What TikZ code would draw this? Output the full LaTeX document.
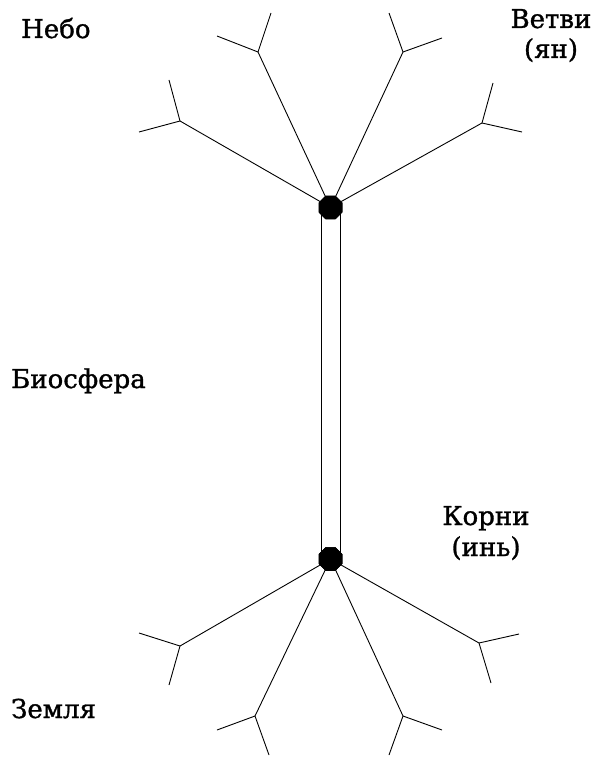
\documentclass[tikz,border=0pt]{standalone}
\usepackage{fontspec}
\setmainfont{DejaVu Serif}
\newfontfamily\labfont{DejaVu Serif}[FakeBold=1.2]
\usetikzlibrary{shapes.geometric}
\tikzset{
  hub/.style={regular polygon, regular polygon sides=8, fill=black, draw=black, minimum size=25pt, inner sep=0pt},
  lab/.style={font=\labfont\fontsize{26}{30}\selectfont, inner sep=0pt},
  ln/.style={line width=0.9pt}
}
\begin{document}
\begin{tikzpicture}[x=1pt,y=-1pt]
\useasboundingbox (0,0) rectangle (595,757);
% hubs
\node[hub] (top) at (330.5,207.5) {};
\node[hub] (bot) at (330.5,559) {};
% trunk
\coordinate (tA) at (321,207.5); \coordinate (bA) at (321,559);
\coordinate (tB) at (340,207.5); \coordinate (bB) at (340,559);
\draw[ln] (tA) -- (bA);
\draw[ln] (tB) -- (bB);
% top branches
\coordinate (u1) at (180,121); \coordinate (u1a) at (169,80); \coordinate (u1b) at (139,132);
\coordinate (u2) at (258,52); \coordinate (u2a) at (271,13); \coordinate (u2b) at (217,36);
\coordinate (u3) at (403,52); \coordinate (u3a) at (389,13); \coordinate (u3b) at (442,38);
\coordinate (u4) at (482,123); \coordinate (u4a) at (493,83); \coordinate (u4b) at (522,132);
\foreach \b in {u1,u2,u3,u4}{
  \draw[ln] (top) -- (\b);
  \draw[ln] (\b) -- (\b a);
  \draw[ln] (\b) -- (\b b);
}
% bottom branches
\coordinate (d1) at (180,646); \coordinate (d1a) at (139,633); \coordinate (d1b) at (169,685);
\coordinate (d2) at (255,716); \coordinate (d2a) at (217,730); \coordinate (d2b) at (269,755);
\coordinate (d3) at (403,716); \coordinate (d3a) at (442,730); \coordinate (d3b) at (389,755);
\coordinate (d4) at (479,643); \coordinate (d4a) at (519,634); \coordinate (d4b) at (491,683);
\foreach \b in {d1,d2,d3,d4}{
  \draw[ln] (bot) -- (\b);
  \draw[ln] (\b) -- (\b a);
  \draw[ln] (\b) -- (\b b);
}
\node[hub] at (top) {};
\node[hub] at (bot) {};
% labels
\node[lab, anchor=base west] (nebo) at (21,38) {Небо};
\node[lab, anchor=base] (vetvi) at (551,28) {Ветви};
\node[lab, anchor=base] (yan) at (551,58) {(ян)};
\node[lab, anchor=base west] (bio) at (11,388) {Биосфера};
\node[lab, anchor=base] (korni) at (486,525) {Корни};
\node[lab, anchor=base] (yin) at (486,556) {(инь)};
\node[lab, anchor=base west] (zemlya) at (11,718) {Земля};
\end{tikzpicture}
\end{document}
